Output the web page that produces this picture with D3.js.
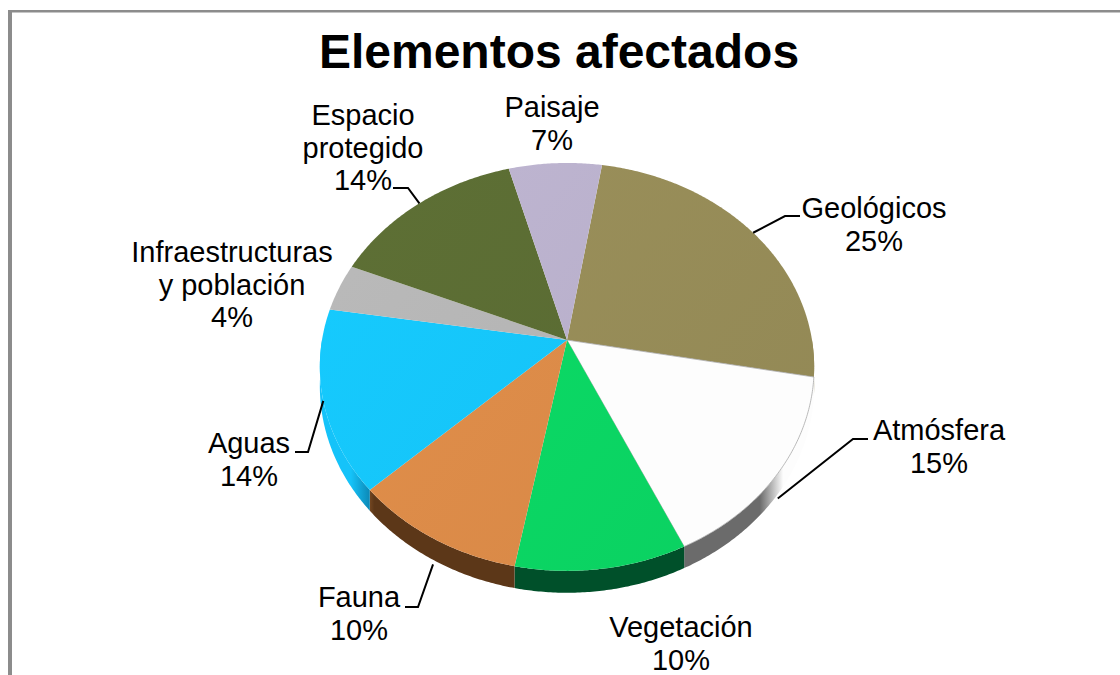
<!DOCTYPE html>
<html>
<head>
<meta charset="utf-8">
<script src="https://cdn.jsdelivr.net/npm/d3@7"></script>
<style>
  html, body { margin: 0; padding: 0; background: #fff; }
  svg { display: block; }
  text { font-family: "Liberation Sans", Arial, sans-serif; fill: #000; }
</style>
</head>
<body>
<svg id="chart" width="1120" height="675"></svg>
<script>
// data (shares in %, clockwise from the top)
const categories = ["Geológicos", "Atmósfera", "Vegetación", "Fauna", "Aguas",
                    "Infraestructuras y población", "Espacio protegido", "Paisaje"];
const shares = [25.3, 15.2, 9.9, 10.1, 14.4, 3.8, 14.4, 6.9];
const topColors = ["#958b57", "#fdfdfd", "#0bd563", "#da8a48", "#15c3f9", "#b3b3b3", "#5a6b33", "#b8afca"];
const sideColors = ["#5e5735", "#6b6b6b", "#00502a", "#5c3718", "#0a7aa6", "#707070", "#38421f", "#77708a"];

// layout of the labels: centre x, first baseline, line breaks, leader start
const labelLayout = {
    "Geológicos": {x: 874, y: 218, lines: ["Geológicos"], leader: [[800, 216], [785, 216]]},
    "Atmósfera": {x: 939, y: 440, lines: ["Atmósfera"], leader: [[868, 439], [853, 439]]},
    "Vegetación": {x: 681, y: 637, lines: ["Vegetación"]},
    "Fauna": {x: 359, y: 607, lines: ["Fauna"], leader: [[405, 607], [418, 607]]},
    "Aguas": {x: 249, y: 453, lines: ["Aguas"], leader: [[295, 452], [308, 452]]},
    "Infraestructuras y población": {x: 232, y: 262, lines: ["Infraestructuras", "y población"]},
    "Espacio protegido": {x: 363, y: 125, lines: ["Espacio", "protegido"], leader: [[393, 188], [408, 188]]},
    "Paisaje": {x: 552, y: 117, lines: ["Paisaje"]}
};

let svg = d3.select("#chart");

// frame
svg.append("rect").attr("x", 8).attr("y", 10).attr("width", 1112).attr("height", 2.5).attr("fill", "#8c8c8c");
svg.append("rect").attr("x", 8).attr("y", 10).attr("width", 4).attr("height", 665).attr("fill", "#8c8c8c");

svg.append("text")
    .attr("x", 559).attr("y", 68)
    .attr("text-anchor", "middle")
    .style("font-size", "48px").style("font-weight", "bold")
    .text("Elementos afectados");

// tilted disc with a bit of perspective
let cx = 567, cy = 340, rx = 245, ry = 200.4, persp = 0.132, depth = 19;
let deg = Math.PI / 180;

function project(a, r) {
    let u = r * Math.sin(a);
    let v = -r * Math.cos(a);
    let s = 1 / (1 - persp * v);
    return [cx + rx * u * s, cy + ry * v * s];
}
function scaleAt(a) {
    return 1 / (1 + persp * Math.cos(a));
}

let total = d3.sum(shares);
let pie = d3.pie().sort(null).value(d => d.value)
    .startAngle(9.3 * deg).endAngle(9.3 * deg + 2 * Math.PI);
let arcs = pie(categories.map((c, i) => ({name: c, value: shares[i], i: i})));

let line = d3.line();
let defs = svg.append("defs");

function arcPoints(a0, a1) {
    let n = Math.max(2, Math.ceil((a1 - a0) / (0.5 * deg)));
    return d3.range(n + 1).map(k => a0 + (a1 - a0) * k / n);
}

// x positions where the wall turns from lit to shaded
let vLit = 0.58, vDark = 0.7;
let rightLit = project(Math.PI - Math.acos(vLit), 1)[0];
let rightDark = project(Math.PI - Math.acos(vDark), 1)[0];
let leftLit = project(Math.PI + Math.acos(vLit), 1)[0];
let leftDark = project(Math.PI + Math.acos(vDark), 1)[0];

// side walls (front half only)
let walls = svg.append("g");
arcs.forEach(d => {
    let a0 = Math.max(d.startAngle, 90 * deg);
    let a1 = Math.min(d.endAngle, 270 * deg);
    if (a1 <= a0) return;
    let mid = (d.startAngle + d.endAngle) / 2;
    let right = Math.sin(mid) > 0;
    let gid = "wall" + d.data.i;
    let g = defs.append("linearGradient").attr("id", gid)
        .attr("gradientUnits", "userSpaceOnUse")
        .attr("x1", right ? rightLit : leftLit).attr("y1", 0)
        .attr("x2", right ? rightDark : leftDark).attr("y2", 0);
    g.append("stop").attr("offset", 0).attr("stop-color", topColors[d.data.i]);
    g.append("stop").attr("offset", 1).attr("stop-color", sideColors[d.data.i]);
    let angs = arcPoints(a0, a1);
    let topPts = angs.map(a => project(a, 1));
    let botPts = angs.slice().reverse().map(a => {
        let p = project(a, 1);
        return [p[0], p[1] + depth * scaleAt(a)];
    });
    walls.append("path")
        .attr("d", line(topPts.concat(botPts)) + "Z")
        .attr("fill", "url(#" + gid + ")");
});

// top faces
let tops = svg.append("g");
arcs.forEach(d => {
    let c = d3.color(topColors[d.data.i]);
    let gid = "top" + d.data.i;
    let g = defs.append("linearGradient").attr("id", gid)
        .attr("gradientUnits", "userSpaceOnUse")
        .attr("x1", cx - rx).attr("y1", cy - ry)
        .attr("x2", cx + rx).attr("y2", cy + ry);
    g.append("stop").attr("offset", 0).attr("stop-color", c.brighter(0.12).formatHex());
    g.append("stop").attr("offset", 1).attr("stop-color", c.darker(0.06).formatHex());
    let pts = [[cx, cy]].concat(arcPoints(d.startAngle, d.endAngle).map(a => project(a, 1)));
    let isWhite = c.r > 240 && c.g > 240;
    tops.append("path")
        .attr("d", line(pts) + "Z")
        .attr("fill", isWhite ? topColors[d.data.i] : "url(#" + gid + ")")
        .attr("stroke", isWhite ? "#a8a8a8" : "none")
        .attr("stroke-width", isWhite ? 0.8 : 0);
});

// labels and leader lines
let labels = svg.append("g");
arcs.forEach(d => {
    let lay = labelLayout[d.data.name];
    let pct = Math.round(d.data.value / total * 100) + "%";
    let t = labels.append("text")
        .attr("text-anchor", "middle")
        .style("font-size", "29px");
    lay.lines.concat([pct]).forEach((s, k) => {
        t.append("tspan").attr("x", lay.x).attr("y", lay.y + k * 32.5).text(s);
    });
    if (lay.leader) {
        let mid = (d.startAngle + d.endAngle) / 2;
        let end = project(mid, 1);
        if (-Math.cos(mid) > 0.5) end = [end[0], end[1] + (depth + 4) * scaleAt(mid)];
        labels.append("path")
            .attr("d", line(lay.leader.concat([end])))
            .attr("fill", "none")
            .attr("stroke", "#000")
            .attr("stroke-width", 2);
    }
});
</script>
</body>
</html>
